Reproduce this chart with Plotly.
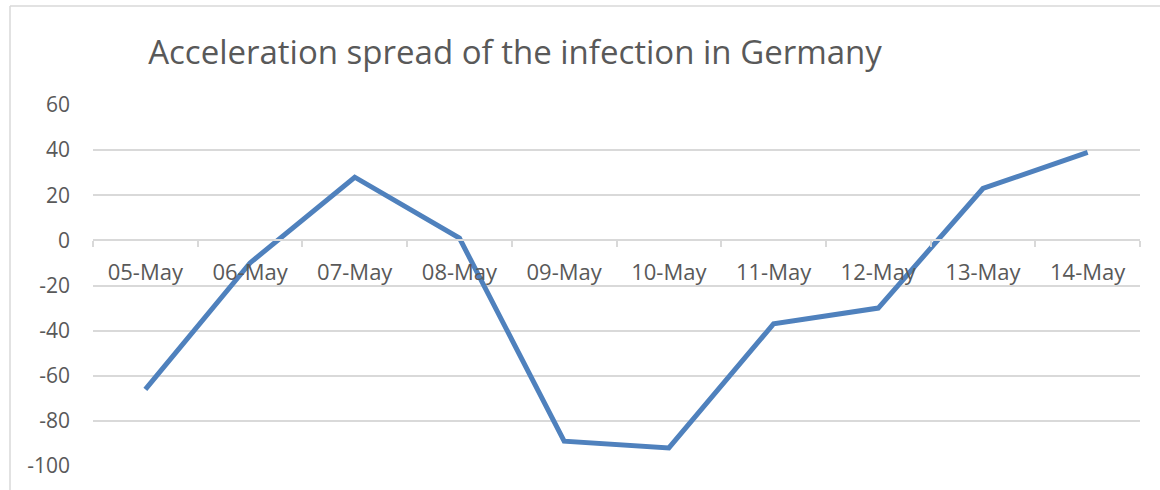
import plotly.graph_objs as go

# Datos
fechas = ['05-May', '06-May', '07-May', '08-May', '09-May',
          '10-May', '11-May', '12-May', '13-May', '14-May']
aceleracion = [-66, -10, 28, 1, -89, -92, -37, -30, 23, 39]
ticks_y = [-100, -80, -60, -40, -20, 0, 20, 40, 60]
textos_y = ['-100', '-80', '-60', '-40', '-20', '0', '20', '40', '60']

gris_texto = '#595959'
gris_linea = '#d9d9d9'
fuente = 'Open Sans, sans-serif'

fig = go.Figure(go.Scatter(
    x=fechas,
    y=aceleracion,
    mode='lines',
    line=dict(color='#4f81bd', width=5),
    hoverinfo='x+y'
))

# posicion del eje x en y=0 (fraccion del area de trazado)
pos_cero = (0 - (-100)) / (60 - (-100))

fig.update_layout(
    width=1160, height=490,
    paper_bgcolor='white', plot_bgcolor='white',
    margin=dict(l=93, r=20, t=105, b=24),
    showlegend=False,
    title=dict(
        text='Acceleration spread of the infection in Germany',
        x=515 / 1160, xref='container', xanchor='center',
        y=1 - 52 / 490, yref='container', yanchor='middle',
        font=dict(family=fuente, size=33, color=gris_texto)
    ),
    xaxis=dict(
        type='category',
        anchor='free', position=pos_cero,
        showgrid=False,
        showline=True, linecolor=gris_linea, linewidth=1.5,
        ticks='outside', tickson='boundaries', ticklen=6,
        tickcolor=gris_linea, tickwidth=1.5,
        ticklabelstandoff=12,
        tickfont=dict(family=fuente, size=22, color=gris_texto),
        range=[-0.5, 9.5],
        fixedrange=True
    ),
    yaxis=dict(
        range=[-100, 60],
        tickvals=ticks_y,
        ticktext=textos_y,
        showgrid=True, gridcolor=gris_linea, gridwidth=1.5,
        zeroline=False,
        showline=False,
        ticks='',
        ticklabelstandoff=22,
        tickfont=dict(family=fuente, size=21, color=gris_texto),
        fixedrange=True
    ),
    shapes=[
        # borde del area del grafico (izquierda y arriba)
        dict(type='line', xref='paper', yref='paper',
             x0=(10 - 93) / 1047, x1=(10 - 93) / 1047,
             y0=1 + (105 - 6) / 361, y1=-0.2,
             line=dict(color=gris_linea, width=1.5)),
        dict(type='line', xref='paper', yref='paper',
             x0=(10 - 93) / 1047, x1=1.1,
             y0=1 + (105 - 6) / 361, y1=1 + (105 - 6) / 361,
             line=dict(color=gris_linea, width=1.5)),
    ]
)

# quitar el margen del body para que la figura empiece en (0, 0)
fig.write_html('out.html', config={'displayModeBar': False},
               post_script="document.body.style.margin='0';")
